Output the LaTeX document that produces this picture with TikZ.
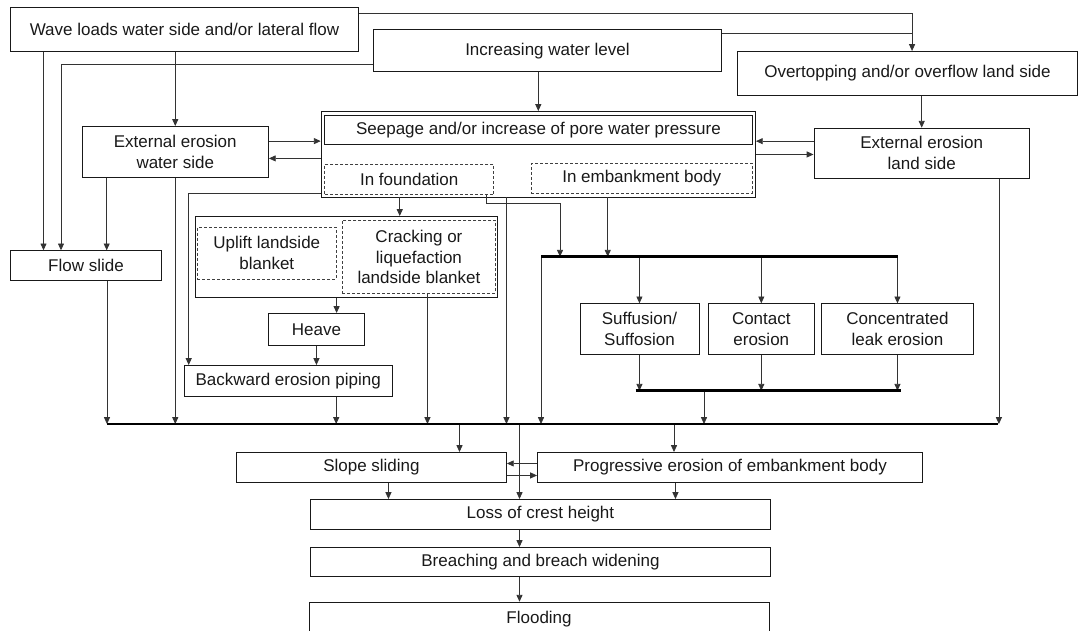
\documentclass[tikz,border=0pt]{standalone}
\usepackage{fontspec}
\setmainfont{Liberation Sans}
\usetikzlibrary{arrows.meta}
\newcommand\dfont{\fontsize{17}{20.7}\selectfont}
\tikzset{
  box/.style={draw=black!90, line width=0.9pt, inner sep=0pt, anchor=north west, align=center, font=\dfont, text=black!90},
  dbox/.style={box, draw=black!75, dash pattern=on 3pt off 2pt},
  ln/.style={line width=0.8pt, draw=black!80},
  arr/.style={ln, -{Triangle[length=6.8pt,width=6pt]}},
  bus/.style={line width=2.8pt, draw=black}
}
\begin{document}
\begin{tikzpicture}[x=1pt,y=-1pt]
\useasboundingbox (0,0) rectangle (1078,630);
% nodes
\node[box,minimum width=348,minimum height=43.4] (wave) at (10,7.3) {Wave loads water side and/or lateral flow};
\node[box,minimum width=348,minimum height=42] (inc) at (373,29.3) {Increasing water level};
\node[box,minimum width=340.8,minimum height=44] (over) at (736.6,51) {Overtopping and/or overflow land side};
\node[box,minimum width=186.4,minimum height=51.3] (extw) at (81.6,126) {External erosion\\water side};
\node[box,minimum width=434.3,minimum height=85.5] (seep) at (320.7,111) {};
\node[box,minimum width=427.4,minimum height=29] (seepin) at (324.3,115) {Seepage and/or increase of pore water pressure};
\node[dbox,minimum width=169,minimum height=30.6] (found) at (324.3,163.7) {In foundation};
\node[dbox,minimum width=221,minimum height=29.7] (emb) at (530.7,163) {In embankment body};
\node[box,minimum width=215.5,minimum height=50] (extl) at (813.5,127.7) {External erosion\\land side};
\node[box,minimum width=151,minimum height=29.7] (flow) at (10,250.3) {Flow slide};
\node[box,minimum width=302,minimum height=81] (grp) at (195,216) {};
\node[dbox,minimum width=138.7,minimum height=52] (uplift) at (197,226.7) {Uplift landside\\blanket};
\node[dbox,minimum width=153,minimum height=73] (crack) at (342,220) {Cracking or\\liquefaction\\landside blanket};
\node[box,minimum width=96,minimum height=31.7] (heave) at (268,313) {Heave};
\node[box,minimum width=208.5,minimum height=31] (bep) at (183.5,365) {Backward erosion piping};
\node[box,minimum width=119,minimum height=50.4] (suff) at (579.5,303.3) {Suffusion/\\Suffosion};
\node[box,minimum width=106.3,minimum height=50.4] (cont) at (707.7,303.3) {Contact\\erosion};
\node[box,minimum width=152,minimum height=50.4] (conc) at (821,303.3) {Concentrated\\leak erosion};
\node[box,minimum width=270,minimum height=30] (slope) at (236,452) {Slope sliding};
\node[box,minimum width=385,minimum height=30] (prog) at (537,452) {Progressive erosion of embankment body};
\node[box,minimum width=460,minimum height=30] (loss) at (310,499) {Loss of crest height};
\node[box,minimum width=460,minimum height=29] (breach) at (310,547) {Breaching and breach widening};
\node[box,minimum width=460.2,minimum height=33] (flood) at (308.5,601.7) {Flooding};
% bus coordinates
\coordinate (mbL) at (107,424); \coordinate (mbR) at (998,424);
\coordinate (ubL) at (541,256.7); \coordinate (ubR) at (897.6,256.7);
\coordinate (lbL) at (635.6,390.7); \coordinate (lbR) at (901.4,390.7);
\coordinate (ubA) at (560,256.7);
\coordinate (lbM) at (704,390.7);
% top connectors
\coordinate (j1) at ([xshift=4.6]over.north);
\draw[arr] ([yshift=-6]wave.north east) -| (j1);
\draw[ln] ([yshift=-4]inc.north east) coordinate (i1) -- (i1 -| j1);
\draw[arr] ([yshift=8]inc.south west) -| ([xshift=51]flow.north west);
\draw[arr] ([xshift=33.5]wave.south west) -- ([xshift=33.5]flow.north west);
\draw[arr] (wave.south -| extw.north) -- (extw.north);
\coordinate (a1) at ([yshift=11]extw.east); \draw[arr] (a1) -- (a1 -| seep.west);
\coordinate (a2) at ([yshift=-6.3]extw.east); \draw[arr] (a2 -| seep.west) -- (a2);
\draw[arr] (inc.south -| seep.north) -- (seep.north);
\draw[arr] (over.south -| extl.north) -- (extl.north);
\coordinate (b1) at ([yshift=12]extl.west); \draw[arr] (b1) -- (b1 -| seep.east);
\coordinate (b2) at ([yshift=-1.3]extl.west); \draw[arr] (b2 -| seep.east) -- (b2);
% left side
\coordinate (c1) at ([xshift=25.1]extw.south west); \draw[arr] (c1) -- (c1 |- flow.north);
\draw[arr] (extw.south) -- (extw.south |- mbL);
\draw[arr] ([xshift=97]flow.south west) coordinate (c2) -- (c2 |- mbL);
\draw[arr] ([yshift=3.8]seep.south west) -| ([xshift=5.2]bep.north west);
\coordinate (d1) at ([xshift=-9.5]found.south); \draw[arr] (d1 |- seep.south) -- (d1 |- grp.north);
\draw[arr] (uplift.east |- grp.south) -- (uplift.east |- heave.north);
\draw[arr] (heave.south) -- (heave.south |- bep.north);
\draw[arr] ([xshift=48]bep.south) coordinate (e1) -- (e1 |- mbL);
\draw[arr] ([xshift=8.5]crack.south) coordinate (e2) -- (e2 |- mbL);
% middle
\draw[arr] ([xshift=-7.8]found.south east) -- ++(0,8.4) -| (ubA);
\coordinate (f1) at ([xshift=-31.85]seep.south); \draw[arr] (f1) -- (f1 |- mbL);
\coordinate (g1) at ([xshift=-33.9]emb.south); \draw[arr] (g1 |- seep.south) -- (g1 |- ubL);
\draw[arr] (ubL) -- (ubL |- mbL);
\draw[arr] (suff.north |- ubL) -- (suff.north);
\draw[arr] (cont.north |- ubL) -- (cont.north);
\draw[arr] (conc.north |- ubL) -- (conc.north);
\draw[arr] (suff.south) -- (suff.south |- lbL);
\draw[arr] (cont.south) -- (cont.south |- lbL);
\draw[arr] (conc.south) -- (conc.south |- lbL);
\draw[arr] (lbM) -- (lbM |- mbL);
\draw[arr] ([xshift=-31]extl.south east) coordinate (h1) -- (h1 |- mbL);
% bottom
\coordinate (k1) at ([xshift=-47.4]slope.north east); \draw[arr] (k1 |- mbL) -- (k1);
\coordinate (k2) at ([xshift=137]prog.north west); \draw[arr] (k2 |- mbL) -- (k2);
\coordinate (k3) at ([xshift=209.5]loss.north west); \draw[arr] (k3 |- mbL) -- (k3);
\coordinate (m1) at ([yshift=4]prog.west); \draw[arr] (m1) -- (m1 -| slope.east);
\coordinate (m2) at ([yshift=-8]slope.east); \draw[arr] (m2) -- (m2 -| prog.west);
\coordinate (k4) at ([xshift=17]slope.south); \draw[arr] (k4) -- (k4 |- loss.north);
\coordinate (k5) at ([xshift=-54.5]prog.south); \draw[arr] (k5) -- (k5 |- loss.north);
\draw[arr] (k3 |- loss.south) -- (k3 |- breach.north);
\draw[arr] (k3 |- breach.south) -- (k3 |- flood.north);
% buses
\draw[bus] (mbL) -- (mbR);
\draw[bus] (ubL) -- (ubR);
\draw[bus] (lbL) -- (lbR);
\end{tikzpicture}
\end{document}
